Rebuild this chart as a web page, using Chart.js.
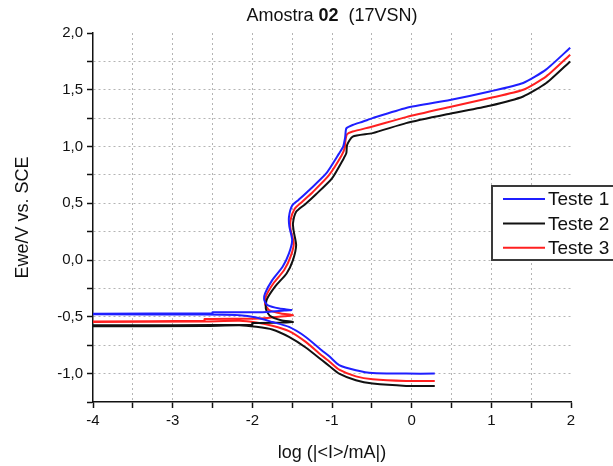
<!DOCTYPE html>
<html>
<head>
<meta charset="utf-8">
<script src="https://cdn.jsdelivr.net/npm/chart.js@4/dist/chart.umd.min.js"></script>
<style>
  html, body { margin: 0; padding: 0; background: #fff; }
  #wrap { width: 613px; height: 466px; }
</style>
</head>
<body>
<div id="wrap"><canvas id="tafel" width="613" height="466"></canvas></div>
<script>
// Values: log(|I|/mA) and E (V vs. SCE), in scan order
const teste1LogI = [0.29, -0.07, -0.49, -0.70, -0.91, -1.03, -1.12, -1.33, -1.54, -1.75, -1.95, -2.16, -2.6, -4.0,
  -4.0, -2.5, -2.5, -1.9, -1.6, -1.51, -1.66, -1.81, -1.85, -1.84, -1.75, -1.62, -1.54, -1.50, -1.535, -1.54,
  -1.50, -1.42, -1.28, -1.07, -0.91, -0.86, -0.835, -0.82, -0.74, -0.61, -0.49, -0.07, 0.48, 0.98, 1.40, 1.69, 1.99];
const teste1E = [-1.0, -1.0, -0.995, -0.97, -0.925, -0.85, -0.80, -0.677, -0.589, -0.545, -0.506, -0.485, -0.48, -0.478,
  -0.472, -0.47, -0.46, -0.46, -0.445, -0.44, -0.427, -0.397, -0.353, -0.294, -0.177, -0.059, 0.059, 0.177, 0.294, 0.38,
  0.48, 0.53, 0.62, 0.765, 0.94, 1.0, 1.08, 1.16, 1.19, 1.22, 1.25, 1.34, 1.41, 1.485, 1.56, 1.68, 1.87];

const teste2LogI = [0.29, -0.07, -0.49, -0.70, -0.91, -1.03, -1.12, -1.33, -1.54, -1.75, -1.95, -2.16, -2.6, -4.0,
  -4.0, -2.0, -2.0, -1.6, -1.49, -1.64, -1.78, -1.83, -1.82, -1.71, -1.57, -1.49, -1.45, -1.48, -1.49, -1.45,
  -1.34, -1.20, -1.0, -0.85, -0.82, -0.81, -0.74, -0.49, -0.07, 0.48, 0.98, 1.40, 1.69, 1.99];
const teste2E = [-1.108, -1.108, -1.088, -1.059, -1.0, -0.935, -0.885, -0.77, -0.677, -0.612, -0.588, -0.574, -0.58, -0.582,
  -0.575, -0.57, -0.555, -0.55, -0.545, -0.53, -0.49, -0.43, -0.35, -0.23, -0.118, 0.0, 0.132, 0.25, 0.324, 0.426,
  0.49, 0.58, 0.72, 0.90, 0.942, 1.015, 1.088, 1.118, 1.206, 1.289, 1.359, 1.441, 1.559, 1.75];

const teste3LogI = [0.29, -0.07, -0.49, -0.70, -0.91, -1.03, -1.12, -1.33, -1.54, -1.75, -1.95, -2.16, -2.6, -4.0,
  -4.0, -2.6, -2.6, -1.9, -1.6, -1.49, -1.64, -1.79, -1.84, -1.83, -1.73, -1.60, -1.52, -1.48, -1.52, -1.52,
  -1.47, -1.38, -1.24, -1.04, -0.88, -0.84, -0.83, -0.81, -0.74, -0.49, -0.07, 0.48, 0.98, 1.40, 1.69, 1.99];
const teste3E = [-1.065, -1.065, -1.05, -1.024, -0.965, -0.895, -0.845, -0.72, -0.625, -0.578, -0.55, -0.535, -0.54, -0.545,
  -0.54, -0.535, -0.52, -0.515, -0.495, -0.485, -0.47, -0.44, -0.39, -0.32, -0.2, -0.088, 0.03, 0.147, 0.27, 0.353,
  0.45, 0.51, 0.60, 0.745, 0.92, 0.99, 1.06, 1.11, 1.132, 1.177, 1.259, 1.348, 1.427, 1.50, 1.618, 1.809];

const seriesNames = ['Teste 1', 'Teste 2', 'Teste 3'];
const seriesColors = ['#1f1fff', '#111111', '#ff2020'];

// Axis ranges / ticks
const xMin = -4, xMax = 2, xStep = 0.5;
const yMin = -1.25, yMax = 2, yStep = 0.25;

const FONT = "'Liberation Sans', Arial, sans-serif";

function toPoints(xs, ys) {
    return xs.map((x, i) => ({ x: x, y: ys[i] }));
}

// Title with the bold sample number
const titlePlugin = {
    id: 'mixedTitle',
    afterDraw(chart) {
        const ctx = chart.ctx;
        const parts = [['Amostra ', 'normal'], ['02', 'bold'], ['  (17VSN)', 'normal']];
        ctx.save();
        let total = 0;
        parts.forEach(p => { ctx.font = p[1] + ' 18px ' + FONT; total += ctx.measureText(p[0]).width; });
        let x = (chart.chartArea.left + chart.chartArea.right) / 2 - total / 2;
        ctx.fillStyle = '#111';
        ctx.textBaseline = 'middle';
        parts.forEach(p => {
            ctx.font = p[1] + ' 18px ' + FONT;
            ctx.fillText(p[0], x, 16);
            x += ctx.measureText(p[0]).width;
        });
        ctx.restore();
    }
};

// Boxed legend sitting at the right edge, partly cut off
const boxLegendPlugin = {
    id: 'boxLegend',
    afterDraw(chart) {
        const ctx = chart.ctx;
        const left = 492, top = 186, bottom = 260;
        ctx.save();
        ctx.fillStyle = '#fff';
        ctx.fillRect(left, top, 140, bottom - top);
        ctx.strokeStyle = '#3a3a3a';
        ctx.lineWidth = 2;
        ctx.strokeRect(left, top, 140, bottom - top);
        ctx.font = '19px ' + FONT;
        ctx.textBaseline = 'middle';
        chart.data.datasets.forEach((ds, i) => {
            const y = 199 + i * 24.4;
            ctx.strokeStyle = ds.borderColor;
            ctx.lineWidth = 2;
            ctx.beginPath();
            ctx.moveTo(503, y);
            ctx.lineTo(545, y);
            ctx.stroke();
            ctx.fillStyle = '#111';
            ctx.fillText(ds.label, 548, y + 1);
        });
        ctx.restore();
    }
};

const datasets = [
    toPoints(teste1LogI, teste1E),
    toPoints(teste2LogI, teste2E),
    toPoints(teste3LogI, teste3E)
].map((pts, i) => ({
    label: seriesNames[i],
    data: pts,
    showLine: true,
    borderColor: seriesColors[i],
    backgroundColor: seriesColors[i],
    borderWidth: 2,
    pointRadius: 0,
    tension: 0.2,
    fill: false
}));

const isEdge = (v, a, b) => Math.abs(v - a) < 1e-6 || Math.abs(v - b) < 1e-6;

new Chart(document.getElementById('tafel'), {
    type: 'scatter',
    data: { datasets: datasets },
    options: {
        responsive: false,
        animation: false,
        layout: { padding: { top: 33, right: 42, left: 0, bottom: 0 } },
        plugins: {
            legend: { display: false },
            title: { display: false },
            tooltip: { enabled: false }
        },
        scales: {
            x: {
                type: 'linear',
                min: xMin,
                max: xMax,
                afterFit: scale => { scale.height = 64; },
                ticks: {
                    stepSize: xStep,
                    autoSkip: false,
                    maxRotation: 0,
                    padding: 4,
                    color: '#111',
                    font: { family: FONT, size: 15 },
                    callback: v => Number.isInteger(v) ? String(v) : ''
                },
                grid: {
                    color: c => isEdge(c.tick.value, xMin, xMax) ? 'rgba(0,0,0,0)' : '#b4b4b4',
                    lineWidth: 1,
                    tickLength: 6,
                    tickColor: '#111',
                    tickWidth: 1.5
                },
                border: { color: '#111', width: 1.5, dash: [2, 3] },
                title: {
                    display: true,
                    text: 'log (|<I>/mA|)',
                    color: '#111',
                    font: { family: FONT, size: 18 },
                    padding: { top: 4, bottom: 2 }
                }
            },
            y: {
                min: yMin,
                max: yMax,
                afterFit: scale => { scale.width = 93; },
                ticks: {
                    stepSize: yStep,
                    autoSkip: false,
                    padding: 4,
                    color: '#111',
                    font: { family: FONT, size: 15 },
                    callback: v => Math.abs(v * 2 - Math.round(v * 2)) < 1e-6 ? v.toFixed(1).replace('.', ',') : ''
                },
                grid: {
                    color: c => isEdge(c.tick.value, yMin, yMax) ? 'rgba(0,0,0,0)' : '#b4b4b4',
                    lineWidth: 1,
                    tickLength: 6,
                    tickColor: '#111',
                    tickWidth: 1.5
                },
                border: { color: '#111', width: 1.5, dash: [2, 3] },
                title: {
                    display: true,
                    text: 'Ewe/V vs. SCE',
                    color: '#111',
                    font: { family: FONT, size: 18 },
                    padding: { top: 12, bottom: 4 }
                }
            }
        }
    },
    plugins: [titlePlugin, boxLegendPlugin]
});
</script>
</body>
</html>
